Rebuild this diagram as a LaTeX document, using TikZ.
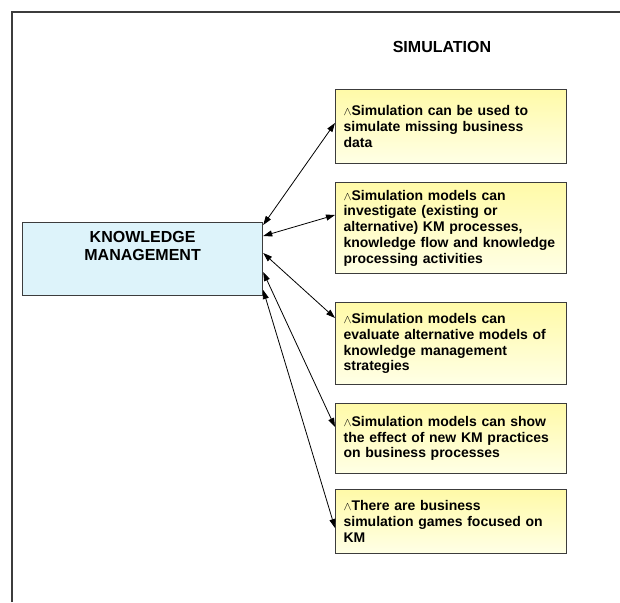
\documentclass[tikz,border=0pt]{standalone}
\usepackage{fontspec}
\setmainfont{Liberation Sans}
\usetikzlibrary{arrows.meta}

\definecolor{kmblue}{RGB}{221,243,250}
\definecolor{simtop}{RGB}{255,250,168}
\definecolor{simbottom}{RGB}{255,255,230}
\definecolor{edge}{RGB}{60,60,60}

\tikzset{
  simbox/.style={draw=edge, line width=1.2pt, rectangle, anchor=north west,
    top color=simtop, bottom color=simbottom,
    minimum width=231, inner xsep=8pt, text width=215pt, align=left,
    font=\bfseries\fontsize{14}{15.7}\selectfont},
  link/.style={line width=0.8pt, {Triangle[length=9pt,width=6pt]}-{Triangle[length=9pt,width=6pt]}}
}
\newcommand{\pt}{{\fontsize{12.5}{12.5}\selectfont$\wedge$}}

\begin{document}
\begin{tikzpicture}[x=1pt,y=-1pt]
    \useasboundingbox (0,0) rectangle (620,602);
    \fill[white] (0,0) rectangle (620,602);

    % frame
    \draw[edge, line width=1.3pt] (12,602) -- (12,12) -- (620,12);

    \node[font=\bfseries\fontsize{16}{18}\selectfont] (title) at (442,47) {SIMULATION};

    \node[draw=edge, line width=1.2pt, fill=kmblue, rectangle, anchor=north west,
      minimum width=240, minimum height=73] (km) at (22,222) {};
    \node[anchor=north, inner sep=0pt, yshift=-9pt, align=center,
      font=\bfseries\fontsize{16}{18.5}\selectfont] (kmtext) at (km.north) {KNOWLEDGE\\MANAGEMENT};

    \node[simbox, minimum height=74] (s1) at (335,89)
      {\pt Simulation can be used to\\simulate missing business\\data};
    \node[simbox, minimum height=91] (s2) at (335,182)
      {\pt Simulation models can\\investigate (existing or\\alternative) KM processes,\\knowledge flow and knowledge\\processing activities};
    \node[simbox, minimum height=82] (s3) at (335,302)
      {\pt Simulation models can\\evaluate alternative models of\\knowledge management\\strategies};
    \node[simbox, minimum height=70] (s4) at (335,403)
      {\pt Simulation models can show\\the effect of new KM practices\\on business processes};
    \node[simbox, minimum height=64] (s5) at (335,489)
      {\pt There are business\\simulation games focused on\\KM};

    \draw[link] ([yshift=-3pt]km.north east) -- ([yshift=-34pt]s1.north west);
    \draw[link] ([yshift=-14pt]km.north east) -- ([yshift=-33pt]s2.north west);
    \draw[link] ([yshift=-31pt]km.north east) -- ([yshift=-16pt]s3.north west);
    \draw[link] ([yshift=-50pt]km.north east) -- ([yshift=-24pt]s4.north west);
    \draw[link] ([yshift=-68pt]km.north east) -- ([yshift=-39pt]s5.north west);
\end{tikzpicture}
\end{document}
